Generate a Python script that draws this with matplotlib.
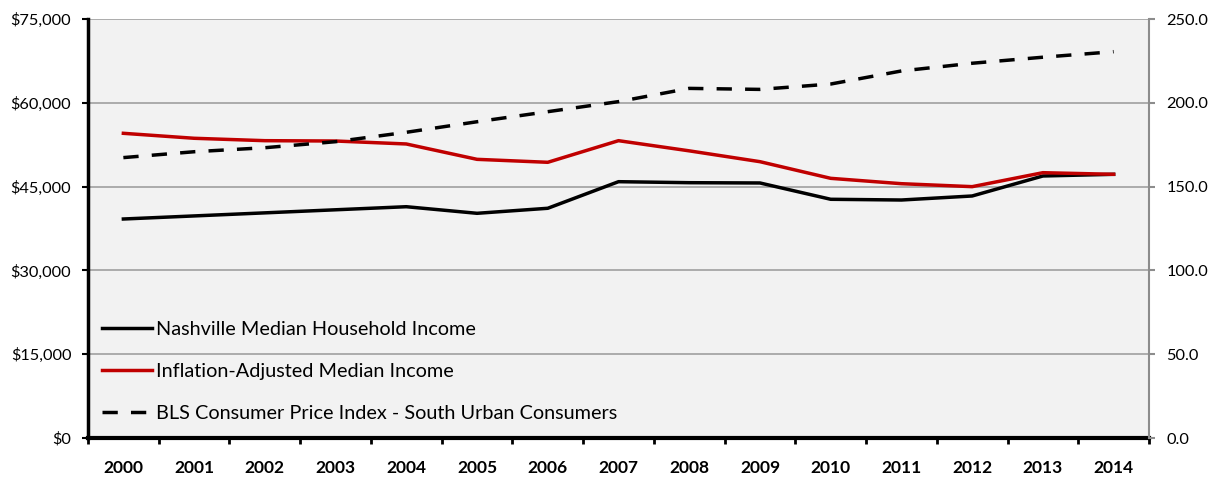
import matplotlib
matplotlib.use("Agg")
import matplotlib.pyplot as plt
from matplotlib.ticker import FuncFormatter, FixedLocator

plt.rcParams['font.family'] = ['Lato', 'DejaVu Sans']

years = ["2000", "2001", "2002", "2003", "2004", "2005", "2006", "2007",
         "2008", "2009", "2010", "2011", "2012", "2013", "2014"]
median_income = [39200, 39750, 40300, 40850, 41400, 40220, 41120, 45880,
                 45700, 45650, 42730, 42600, 43320, 46900, 47200]
adjusted_income = [54540, 53650, 53220, 53160, 52630, 49880, 49350, 53220,
                   51400, 49460, 46480, 45520, 44990, 47490, 47200]
cpi_south = [167.3, 170.8, 173.2, 176.8, 182.4, 188.7, 194.7, 200.7,
             208.6, 208.0, 211.2, 219.0, 223.6, 227.2, 230.5]

W, H = 1218, 478
fig = plt.figure(figsize=(W / 100, H / 100), dpi=100)
ax = fig.add_axes([88 / W, (H - 438) / H, (1149 - 88) / W, (438 - 19) / H])
ax.set_facecolor('#f2f2f2')
ax2 = ax.twinx()

x = list(range(len(years)))
l1, = ax.plot(x, median_income, color='black', lw=2.5,
              solid_joinstyle='round', label='Nashville Median Household Income')
l2, = ax.plot(x, adjusted_income, color='#c00000', lw=2.5,
              solid_joinstyle='round', label='Inflation-Adjusted Median Income')
l3, = ax2.plot(x, cpi_south, color='black', lw=2.5, dashes=(4.4, 3.8),
               label='BLS Consumer Price Index - South Urban Consumers')

ax.set_xlim(-0.5, len(years) - 0.5)
ax.set_ylim(0, 75000)
ax2.set_ylim(0, 250)

ax.set_yticks(range(0, 75001, 15000))
ax.yaxis.set_major_formatter(FuncFormatter(lambda v, p: f"${v:,.0f}"))
ax2.set_yticks(range(0, 251, 50))
ax2.yaxis.set_major_formatter(FuncFormatter(lambda v, p: f"{v:.1f}"))

ax.grid(axis='y', color='#a6a6a6', lw=1.3)
ax.set_axisbelow(True)

# category boundaries carry tick marks, centers carry labels
ax.xaxis.set_major_locator(FixedLocator([i - 0.5 for i in range(len(years) + 1)]))
ax.xaxis.set_major_formatter(FuncFormatter(lambda v, p: ""))
ax.xaxis.set_minor_locator(FixedLocator(x))
ax.set_xticklabels(years, minor=True, fontweight='bold', fontsize=12.5)
ax.tick_params(axis='x', which='major', direction='out', length=4.5, width=2, color='black')
ax.tick_params(axis='x', which='minor', length=0, pad=16)

ax.tick_params(axis='y', direction='out', length=4.5, width=1.5, color='black',
               labelsize=11.8, pad=7.5)
ax2.tick_params(axis='y', direction='out', length=4.5, width=1.5, color='#8c8c8c',
                labelsize=11.8, pad=8)

ax.spines['top'].set_visible(False)
ax2.spines['top'].set_visible(False)
ax.spines['right'].set_visible(False)
ax2.spines['left'].set_visible(False)
ax2.spines['bottom'].set_visible(False)
ax.spines['left'].set_linewidth(2.5)
ax.spines['bottom'].set_linewidth(3)
ax2.spines['right'].set_color('#8c8c8c')
ax2.spines['right'].set_linewidth(1.5)

leg = ax2.legend(handles=[l1, l2, l3], loc='lower left',
                 bbox_to_anchor=(0.006, 0.019), borderaxespad=0.0,
                 frameon=False, fontsize=14.3,
                 handlelength=2.5, handletextpad=0.2, labelspacing=1.26)

fig.savefig('out.png', dpi=100)
